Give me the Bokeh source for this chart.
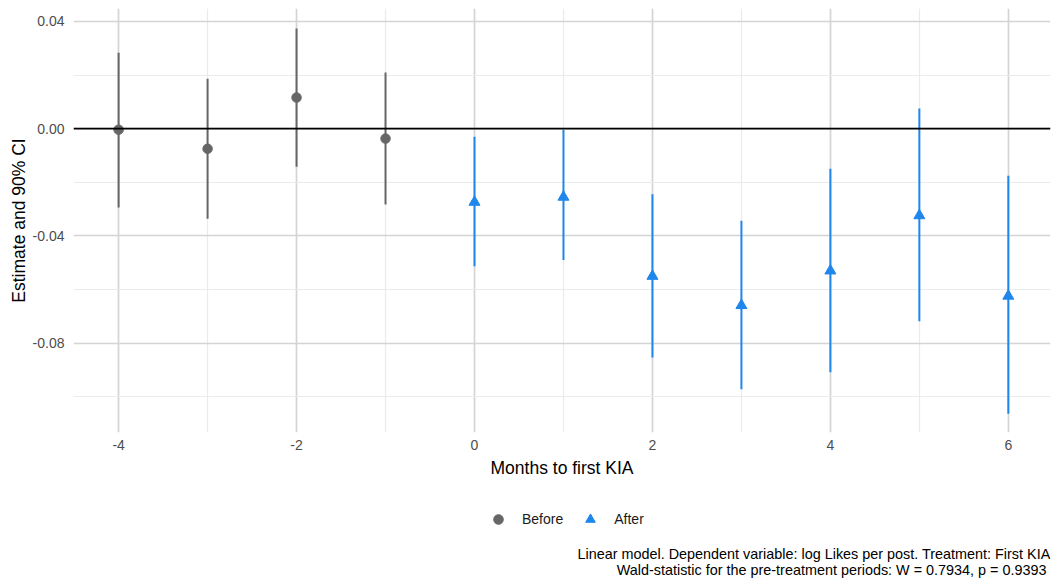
from bokeh.plotting import figure
from bokeh.layouts import column
from bokeh.models import (ColumnDataSource, FixedTicker, PrintfTickFormatter,
                          Span, Legend, LegendItem, Label, Range1d)
from bokeh.embed import file_html
from bokeh.resources import INLINE

# ---- data ----
months_before = [-4, -3, -2, -1]
est_before = [-0.0004, -0.0075, 0.0116, -0.0037]
lo_before = [-0.0294, -0.0336, -0.0142, -0.0283]
hi_before = [0.0283, 0.0186, 0.0373, 0.0209]

months_after = [0, 1, 2, 3, 4, 5, 6]
est_after = [-0.0274, -0.0255, -0.0550, -0.0659, -0.0530, -0.0324, -0.0624]
lo_after = [-0.0513, -0.0490, -0.0853, -0.0972, -0.0908, -0.0718, -0.1063]
hi_after = [-0.0030, -0.0004, -0.0245, -0.0343, -0.0150, 0.0075, -0.0176]

x_major = [-4, -2, 0, 2, 4, 6]
x_minor = [-3, -1, 1, 3, 5]
y_major = [0.04, 0.0, -0.04, -0.08]
y_minor = [0.02, -0.02, -0.06, -0.10]

legend_labels = ["Before", "After"]
caption_1 = "Linear model. Dependent variable: log Likes per post. Treatment: First KIA"
caption_2 = "Wald-statistic for the pre-treatment periods: W =  0.7934, p = 0.9393"

FONT = "Liberation Sans"
GREY = "#666666"
BLUE = "#1F87EC"
W = 1056

src_b = ColumnDataSource(dict(x=months_before, y=est_before, lo=lo_before, hi=hi_before))
src_a = ColumnDataSource(dict(x=months_after, y=est_after, lo=lo_after, hi=hi_after))

# ---------------- main panel ----------------
p = figure(width=W, height=500, output_backend="svg", toolbar_location=None,
           x_range=Range1d(-4.507, 6.474), y_range=Range1d(-0.1133, 0.0448),
           min_border_left=73, min_border_right=6, min_border_top=8, min_border_bottom=68)
p.outline_line_color = None
p.background_fill_color = "white"
p.border_fill_color = "white"

p.xaxis.ticker = FixedTicker(ticks=x_major, minor_ticks=x_minor)
p.yaxis.ticker = FixedTicker(ticks=y_major, minor_ticks=y_minor)
p.xaxis.formatter = PrintfTickFormatter(format="%d")
p.yaxis.formatter = PrintfTickFormatter(format="%.2f")
for g in (p.xgrid, p.ygrid):
    g.grid_line_color = "#d4d4d4"
    g.grid_line_width = 1.7
    g.minor_grid_line_color = "#ebebeb"
    g.minor_grid_line_width = 1.2

for ax in (p.xaxis, p.yaxis):
    ax.axis_line_color = None
    ax.major_tick_line_color = None
    ax.minor_tick_line_color = None
    ax.major_tick_out = 0
    ax.minor_tick_out = 0
    ax.major_label_text_font = FONT
    ax.major_label_text_font_size = "14px"
    ax.major_label_text_color = "#4d4d4d"
    ax.axis_label_text_font = FONT
    ax.axis_label_text_font_size = "17.5px"
    ax.axis_label_text_font_style = "normal"
    ax.axis_label_text_color = "#000000"
p.xaxis.axis_label = "Months to first KIA"
p.yaxis.axis_label = "Estimate and 90% CI"
p.xaxis.major_label_standoff = 7
p.xaxis.axis_label_standoff = 5
p.yaxis.major_label_standoff = 9
p.yaxis.axis_label_standoff = 1

p.add_layout(Span(location=0, dimension="width", line_color="black", line_width=1.6))

p.segment(x0="x", y0="lo", x1="x", y1="hi", source=src_b, line_color=GREY, line_width=2)
p.segment(x0="x", y0="lo", x1="x", y1="hi", source=src_a, line_color=BLUE, line_width=2)
p.scatter(x="x", y="y", source=src_b, marker="circle", size=9.5,
          fill_color=GREY, line_color=GREY)
p.scatter(x="x", y="y", source=src_a, marker="triangle", size=11,
          fill_color=BLUE, line_color=BLUE)

# ---------------- legend + caption strip ----------------
# (its frame is aligned with the main panel's frame by the column layout)
q = figure(width=W, height=80, output_backend="svg", toolbar_location=None,
           x_range=Range1d(100, 101), y_range=Range1d(100, 101),
           x_axis_location=None, y_axis_location=None,
           min_border_left=73, min_border_right=6, min_border_top=0, min_border_bottom=0)
q.outline_line_color = None
q.grid.visible = False
q.background_fill_color = "white"
q.border_fill_color = "white"

# key glyphs share the data sources; the strip's ranges keep them out of view
key_b = q.scatter(x="x", y="y", source=src_b, marker="circle", size=9.5,
                  fill_color=GREY, line_color=GREY)
key_a = q.scatter(x="x", y="y", source=src_a, marker="triangle", size=11,
                  fill_color=BLUE, line_color=BLUE)

FRAME_W = W - 73 - 6
legend = Legend(items=[LegendItem(label=legend_labels[0], renderers=[key_b]),
                       LegendItem(label=legend_labels[1], renderers=[key_a])],
                orientation="horizontal", location=(413, 49),
                border_line_color=None, background_fill_alpha=0,
                label_text_font=FONT, label_text_font_size="14px",
                label_text_color="#1a1a1a",
                glyph_width=24, glyph_height=24, label_standoff=12, spacing=15,
                padding=4, margin=0)
q.add_layout(legend)

for txt, yy in ((caption_1, 27), (caption_2, 11)):
    q.add_layout(Label(x=FRAME_W, y=yy, x_units="screen", y_units="screen", text=txt,
                       text_align="right", text_baseline="middle", text_font=FONT,
                       text_font_size="14.4px", text_color="#000000"))

layout = column(p, q, spacing=0)
open("out.html", "w").write(file_html(layout, INLINE))
